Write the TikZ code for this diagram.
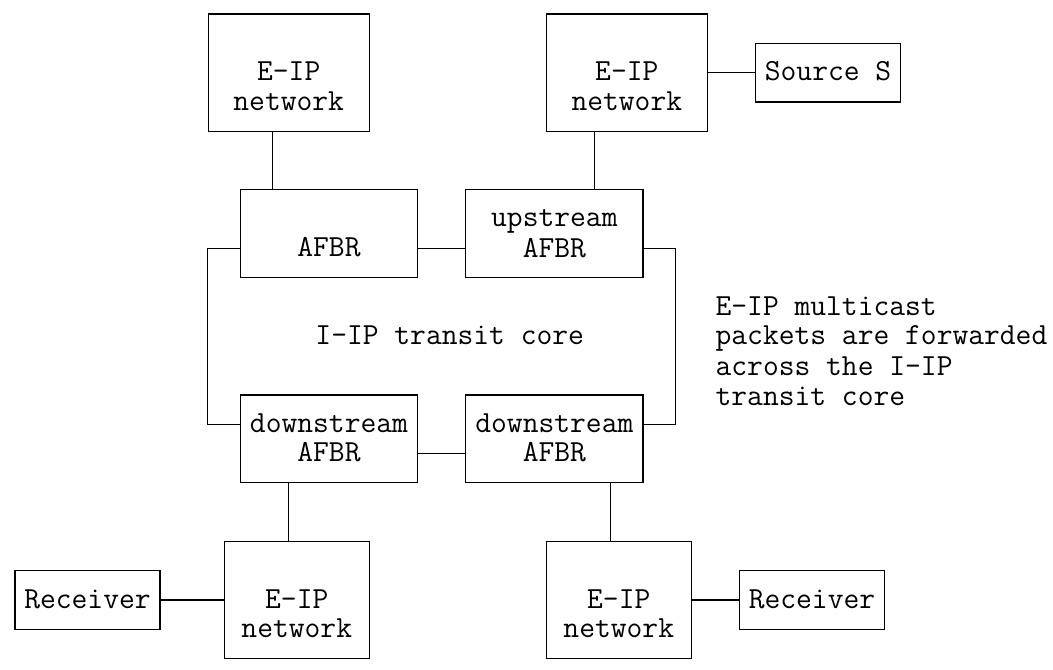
\documentclass[tikz,border=0pt]{standalone}
\usepackage{tikz}

\newcommand\cw{12.075pt}
\newcommand\rh{21.975pt}
\newcommand\rowstrut{\rule[-4.83pt]{0pt}{21.975pt}}

\tikzset{
  asc/.style={font=\fontsize{23}{21.975}\selectfont\ttfamily, inner sep=0pt},
  box/.style 2 args={asc, draw, line width=0.9pt, align=center,
    minimum width=#1*\cw, minimum height=#2*\rh},
  wire/.style={line width=0.9pt}
}

\begin{document}
\begin{tikzpicture}[x=\cw, y=-\rh]
            \useasboundingbox (-0.932,-0.478) rectangle (64.47,22.355);

            \node[box={10}{4}] (eipA) at (17,2) {\rowstrut\\\rowstrut E-IP\\\rowstrut network};
            \node[box={10}{4}] (eipB) at (38,2) {\rowstrut\\\rowstrut E-IP\\\rowstrut network};
            \node[box={9}{2}] (src) at (50.5,2) {\rowstrut Source S};

            \node[box={11}{3}] (afbrA) at (19.5,7.5) {\rowstrut\\\rowstrut AFBR};
            \node[box={11}{3}] (afbrU) at (33.5,7.5) {\rowstrut upstream\\\rowstrut AFBR};
            \node[asc] (core) at (27,11) {\rowstrut I-IP transit core};
            \node[box={11}{3}] (dnA) at (19.5,14.5) {\rowstrut downstream\\\rowstrut AFBR};
            \node[box={11}{3}] (dnB) at (33.5,14.5) {\rowstrut downstream\\\rowstrut AFBR};

            \node[box={9}{4}] (eipC) at (17.5,20) {\rowstrut\\\rowstrut E-IP\\\rowstrut network};
            \node[box={9}{4}] (eipD) at (37.5,20) {\rowstrut\\\rowstrut E-IP\\\rowstrut network};
            \node[box={9}{2}] (rcvA) at (4.5,20) {\rowstrut Receiver};
            \node[box={9}{2}] (rcvB) at (49.5,20) {\rowstrut Receiver};

            \node[asc, align=left, anchor=north west] (note) at (43.5,9.5)
              {\rowstrut E-IP multicast\\\rowstrut packets are forwarded\\\rowstrut across the I-IP\\\rowstrut transit core};

            \draw[wire] (eipA.south -| 16,0) -- (afbrA.north -| 16,0);
            \draw[wire] (eipB.south -| 36,0) -- (afbrU.north -| 36,0);
            \draw[wire] (eipB.east) -- (src.west);
            \draw[wire] (afbrA.east |- 0,8) -- (afbrU.west |- 0,8);
            \draw[wire] (afbrA.west |- 0,8) -- ++(-2,0) |- (dnA.west |- 0,14);
            \draw[wire] (afbrU.east |- 0,8) -- ++(2,0) |- (dnB.east |- 0,14);
            \draw[wire] (dnA.east |- 0,15) -- (dnB.west |- 0,15);
            \draw[wire] (dnA.south -| 17,0) -- (eipC.north -| 17,0);
            \draw[wire] (dnB.south -| 37,0) -- (eipD.north -| 37,0);
            \draw[wire] (rcvA.east) -- (eipC.west);
            \draw[wire] (eipD.east) -- (rcvB.west);
          \end{tikzpicture}
\end{document}
